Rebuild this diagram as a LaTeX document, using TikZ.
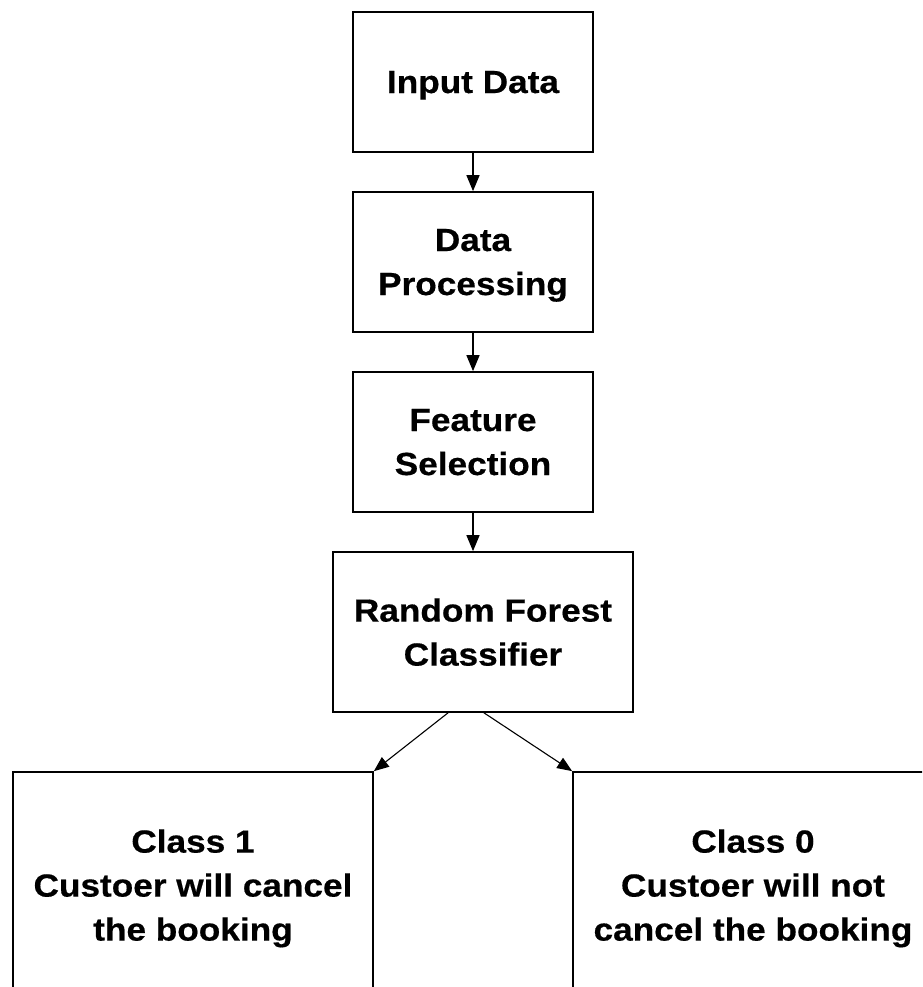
\documentclass[tikz,border=0pt]{standalone}
\usepackage{fontspec}
\setmainfont{Liberation Sans}[FakeStretch=1.1, BoldFeatures={FakeBold=0.5}]
\usetikzlibrary{arrows.meta}

\tikzset{
  box/.style={draw=black, line width=1.7pt, fill=white, align=center,
    inner sep=0pt, text depth=0pt, font=\bfseries\fontsize{32}{44}\selectfont},
  arr/.style={draw=black, line width=1.4pt, -{Triangle[length=16pt,width=13pt]}},
  diag/.style={draw=black, line width=1.1pt, -{Triangle[length=15pt,width=12pt]}}
}

\begin{document}
\begin{tikzpicture}[x=1pt,y=1pt]
  \useasboundingbox (0,0) rectangle (922,-987);
  \clip (0,0) rectangle (922,-987);
  \fill[white] (0,0) rectangle (922,-987);

  % pipeline stages
  \node[box, minimum width=240pt, minimum height=140pt] (inp) at (473,-82) {Input Data};
  \node[box, minimum width=240pt, minimum height=140pt] (proc) at (473,-262) {Data\\Processing};
  \node[box, minimum width=240pt, minimum height=140pt] (feat) at (473,-442) {Feature\\Selection};
  \node[box, minimum width=300pt, minimum height=160pt] (rf) at (483,-632) {Random Forest\\Classifier};

  % output classes
  \node[box, minimum width=360pt, minimum height=226pt] (c1) at (193,-885) {Class 1\\Custoer will cancel\\the booking};
  \node[box, minimum width=360pt, minimum height=226pt] (c0) at (753,-885) {Class 0\\Custoer will not\\cancel the booking};

  % connectors
  \draw[arr] (inp.south) -- (proc.north);
  \draw[arr] (proc.south) -- (feat.north);
  \draw[arr] (feat.south) -- ([xshift=-10pt]rf.north);
  \draw[diag] ([xshift=-35pt]rf.south) -- (c1.north east);
  \draw[diag] ([xshift=1pt]rf.south) -- (c0.north west);
\end{tikzpicture}
\end{document}
